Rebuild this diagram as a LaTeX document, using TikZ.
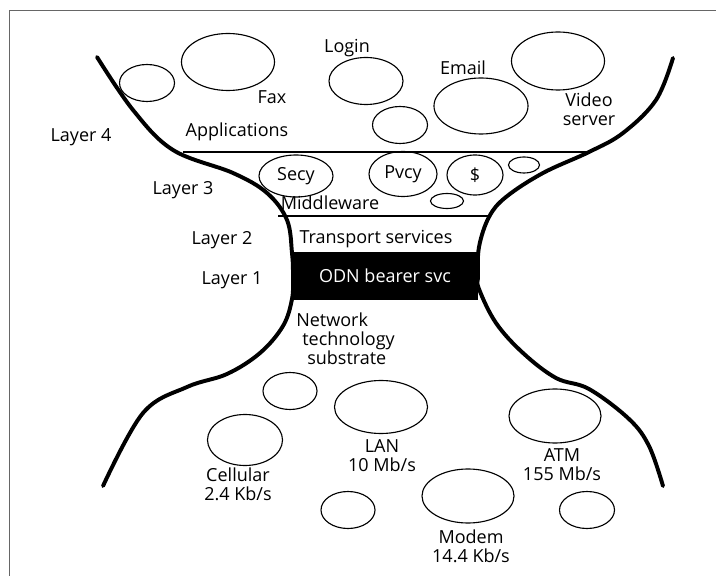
\documentclass[tikz,border=0pt]{standalone}
\usepackage{fontspec}
\setmainfont{Open Sans}
\usepackage{tikz}
\usetikzlibrary{shapes.geometric}

\begin{document}
\begin{tikzpicture}[x=0.025cm, y=-0.025cm]
\tikzset{blob/.style 2 args = {shape=ellipse,draw,line width=0.8pt,minimum width=#1,minimum height=#2,inner sep=0pt}}
\tikzset{txt/.style = {inner sep=0pt,font=\fontsize{12.8}{13.6}\selectfont}}
\tikzset{lbl/.style = {txt,align=center}}
\tikzset{waist/.style = {line width=2.8pt,line cap=round}}
\tikzset{layerline/.style = {line width=0.9pt}}
\useasboundingbox (0,0) rectangle (716,576);
% frame
\draw[black!60,line width=0.6pt] (716,10) -- (9,10) -- (9,576);
% hourglass
\draw[waist] plot[smooth,tension=0.6] coordinates {(97,57) (133,110) (173,150) (233,173) (267,193) (287,220) (292,253) (293,276) (292,299) (283,326) (260,353) (227,374) (187,387) (143,413) (103,486)};
\draw[waist] plot[smooth,tension=0.6] coordinates {(673,58) (656,100) (623,133) (589,152) (543,173) (506,197) (489,217) (479,247) (478,276) (479,289) (496,323) (523,353) (556,378) (589,389) (629,419) (649,446) (663,486)};
% layer boundaries
\coordinate (appl) at (183,152);
\coordinate (appr) at (590,152);
\coordinate (midl) at (278,216);
\coordinate (midr) at (489,216);
\draw[layerline] (appl) -- (appr);
\draw[layerline] (midl) -- (midr);
% applications
\node[blob={1.375cm}{0.925cm}] (app1) at (147,83) {};
\node[blob={2.325cm}{1.425cm}] (fax) at (228,62) {};
\node[blob={1.85cm}{1.175cm}] (login) at (366,81) {};
\node[blob={1.375cm}{0.925cm}] (app2) at (400,125) {};
\node[blob={2.35cm}{1.4cm}] (email) at (481,106) {};
\node[blob={2.325cm}{1.45cm}] (video) at (558,61) {};
\node[lbl] (faxlbl) at (272,97) {Fax};
\node[lbl] (loginlbl) at (347,48) {Login};
\node[lbl] (emaillbl) at (463,68) {Email};
\node[lbl] (videolbl) at (589,109) {Video\\server};
\node[lbl] (applbl) at (237,132) {Applications};
% middleware
\node[blob={1.85cm}{1.05cm},txt] (secy) at (296,176) {Secy};
\node[blob={1.7cm}{1.125cm},txt] (pvcy) at (403,174) {Pvcy};
\node[blob={1.4cm}{1.0cm},txt] (cash) at (475,175) {\$};
\node[blob={0.775cm}{0.4cm}] (mid1) at (524,165) {};
\node[blob={0.825cm}{0.375cm}] (mid2) at (447,201) {};
\node[lbl] (midlbl) at (330,203) {Middleware};
% transport and bearer
\node[lbl] (translbl) at (376,239) {Transport services};
\node[lbl,fill=black,text=white,minimum width=4.65cm,minimum height=1.2cm] (odn) at (385,276) {ODN bearer svc};
% layers
\node[lbl] (l4) at (81,137) {Layer 4};
\node[lbl] (l3) at (183,190) {Layer 3};
\node[lbl] (l2) at (222,240) {Layer 2};
\node[lbl] (l1) at (232,280) {Layer 1};
% substrate
\node[txt,align=left,anchor=west] (netlbl) at (296,339) {Network\\\hspace{4.3pt}technology\\\hspace{7.8pt}substrate};
\node[blob={1.35cm}{0.925cm}] (net1) at (290,391) {};
\node[blob={1.875cm}{1.275cm}] (cell) at (245,440) {};
\node[blob={2.325cm}{1.325cm}] (lan) at (381,407) {};
\node[blob={2.3cm}{1.35cm}] (atm) at (555,416) {};
\node[blob={2.3cm}{1.35cm}] (modem) at (468,496) {};
\node[blob={1.35cm}{0.925cm}] (net2) at (348,510) {};
\node[blob={1.375cm}{0.925cm}] (net3) at (587,510) {};
\node[lbl] (celllbl) at (238,484) {Cellular\\2.4 Kb/s};
\node[lbl] (lanlbl) at (382,456) {LAN\\10 Mb/s};
\node[lbl] (atmlbl) at (562,465) {ATM\\155 Mb/s};
\node[lbl] (modemlbl) at (471,546) {Modem\\14.4 Kb/s};
\end{tikzpicture}
\end{document}
